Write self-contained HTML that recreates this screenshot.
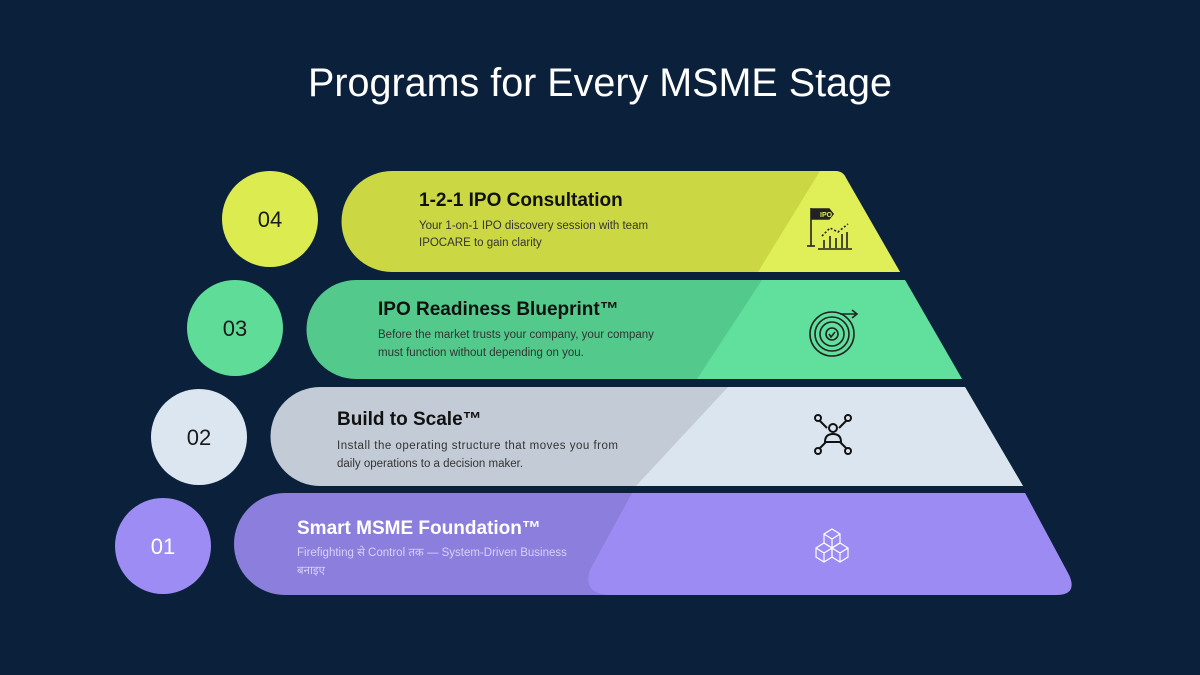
<!DOCTYPE html>
<html><head><meta charset="utf-8"><style>
html,body{margin:0;padding:0;background:#0b213b;}
svg{display:block}
.t{font-family:"Liberation Sans",sans-serif;font-weight:bold;font-size:19px;fill:#111}
.d{font-family:"Liberation Sans","Noto Sans CJK SC",sans-serif;font-size:11.5px;fill:#333}
.n{font-family:"Liberation Sans",sans-serif;font-size:22px;fill:#1a1a1a}
</style></head><body>
<svg width="1200" height="675" viewBox="0 0 1200 675">
<rect width="1200" height="675" fill="#0b213b"/>
<text x="600" y="96" text-anchor="middle" font-family="Liberation Sans, sans-serif" font-size="39.5" fill="#fff">Programs for Every MSME Stage</text>

<!-- Row 4 -->
<circle cx="270" cy="219" r="48" fill="#dcec50"/>
<text class="n" x="270" y="227" text-anchor="middle">04</text>
<path d="M392 171 H835 Q843 171 846 178 L900 272 H392 A50.5 50.5 0 0 1 392 171Z" fill="#cbd843"/>
<path d="M820 171 H835 Q843 171 846 178 L900 272 H758Z" fill="#e0ef57"/>
<text class="t" x="419" y="206">1-2-1 IPO Consultation</text>
<text class="d" x="419" y="229">Your 1-on-1 IPO discovery session with team</text>
<text class="d" x="419" y="246">IPOCARE to gain clarity</text>
<g stroke="#222" stroke-width="1.6" fill="none">
<line x1="811" y1="208" x2="811" y2="246"/><line x1="807" y1="246" x2="815" y2="246"/>
<path d="M811 209 H829 L833 214 L829 219 H811" fill="#222"/>
<line x1="818" y1="249" x2="852" y2="249"/>
<line x1="824" y1="248" x2="824" y2="240"/><line x1="830" y1="248" x2="830" y2="236"/><line x1="836" y1="248" x2="836" y2="238"/><line x1="842" y1="248" x2="842" y2="234"/><line x1="847" y1="248" x2="847" y2="232"/>
<path d="M822 236 L830 228 L838 232 L848 224" stroke-dasharray="2 2"/>
</g>
<text x="820" y="217" font-family="Liberation Sans,sans-serif" font-size="7" font-weight="bold" fill="#dfee55">IPO</text>

<!-- Row 3 -->
<circle cx="235" cy="328" r="48" fill="#5fdd98"/>
<text class="n" x="235" y="336" text-anchor="middle">03</text>
<path d="M356 280 H905 L962 379 H356 A49.5 49.5 0 0 1 356 280Z" fill="#53c98b"/>
<path d="M762 280 H905 L962 379 H697Z" fill="#60e09c"/>
<text class="t" x="378" y="315">IPO Readiness Blueprint™</text>
<text class="d" x="378" y="338">Before the market trusts your company, your company</text>
<text class="d" x="378" y="356">must function without depending on you.</text>
<g stroke="#222" stroke-width="1.6" fill="none">
<circle cx="832" cy="334" r="22"/><circle cx="832" cy="334" r="17"/><circle cx="832" cy="334" r="12"/>
<circle cx="832" cy="334" r="6"/><path d="M829 334 l2 3 l4 -5"/>
<path d="M840 314 L856 314 M852 310 L857 314 L852 318"/>
</g>

<!-- Row 2 -->
<circle cx="199" cy="437" r="48" fill="#dce6f1"/>
<text class="n" x="199" y="445" text-anchor="middle">02</text>
<path d="M320 387 H965 L1023 486 H320 A49.5 49.5 0 0 1 320 387Z" fill="#c3ccd6"/>
<path d="M728 387 H965 L1023 486 H636Z" fill="#dbe5f0"/>
<text class="t" x="337" y="425">Build to Scale™</text>
<text class="d" x="337" y="449" textLength="281" lengthAdjust="spacing">Install the operating structure that moves you from</text>
<text class="d" x="337" y="467">daily operations to a decision maker.</text>
<g stroke="#111" stroke-width="2" fill="none">
<circle cx="833" cy="428" r="4"/><path d="M825 442 Q825 434 833 434 Q841 434 841 442 Z"/>
<circle cx="818" cy="418" r="3"/><circle cx="848" cy="418" r="3"/><circle cx="818" cy="451" r="3"/><circle cx="848" cy="451" r="3"/>
<line x1="820" y1="421" x2="827" y2="428"/><line x1="846" y1="421" x2="839" y2="428"/>
<line x1="820" y1="448" x2="826" y2="442"/><line x1="846" y1="448" x2="840" y2="442"/>
</g>

<!-- Row 1 -->
<circle cx="163" cy="546" r="48" fill="#9d8cf4"/>
<text class="n" x="163" y="554" text-anchor="middle" style="fill:#fff">01</text>
<path d="M285 493 H1025 L1069 575 Q1078 595 1056 595 H285 A51 51 0 0 1 285 493Z" fill="#8c7edc"/>
<path d="M632 493 H1025 L1069 575 Q1078 595 1056 595 H612 Q582 595 590 570Z" fill="#9d8bf4"/>
<text class="t" x="297" y="534" style="fill:#fff">Smart MSME Foundation™</text>
<text class="d" x="297" y="556" style="fill:#d8d2f8">Firefighting से Control तक — System-Driven Business</text>
<text class="d" x="297" y="574" style="fill:#d8d2f8">बनाइए</text>
<g stroke="#fff" stroke-width="1.2" fill="none">
<path d="M832 529 l8 5 v9 l-8 5 l-8 -5 v-9z M824 534 l8 5 l8 -5 M832 539 v9"/>
<path d="M824 543 l8 5 v9 l-8 5 l-8 -5 v-9z M816 548 l8 5 l8 -5 M824 553 v9"/>
<path d="M840 543 l8 5 v9 l-8 5 l-8 -5 v-9z M832 548 l8 5 l8 -5 M840 553 v9"/>
</g>
</svg>
</body></html>
